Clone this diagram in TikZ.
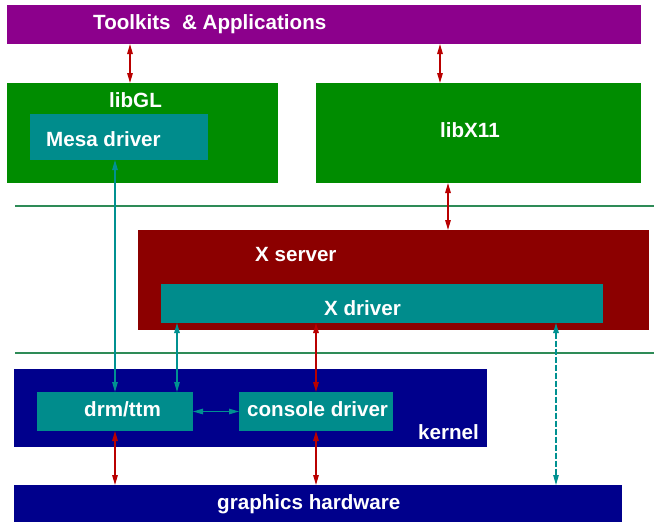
\documentclass[tikz,border=0pt]{standalone}
\usepackage{fontspec}
\setmainfont{Liberation Sans}
\usetikzlibrary{arrows.meta,calc}

\definecolor{appcol}{RGB}{140,0,140}
\definecolor{libcol}{RGB}{0,140,0}
\definecolor{drvcol}{RGB}{0,140,140}
\definecolor{srvcol}{RGB}{140,0,0}
\definecolor{kercol}{RGB}{0,0,140}
\definecolor{redarr}{RGB}{185,0,0}
\definecolor{tealarr}{RGB}{0,145,145}
\definecolor{sepcol}{RGB}{46,139,87}

\tikzset{
    layer/.style={anchor=north west, inner sep=0pt, outer sep=0pt},
    lbl/.style={anchor=base west, inner sep=0pt, text=white,
        font=\fontsize{20.6}{24}\selectfont\bfseries},
    redlink/.style={draw=redarr, line width=1.4pt,
        {Triangle[length=10pt,width=5.5pt]}-{Triangle[length=10pt,width=5.5pt]}},
    teallink/.style={draw=tealarr, line width=1.1pt,
        {Triangle[length=10pt,width=5.5pt]}-{Triangle[length=10pt,width=5.5pt]}},
    sepline/.style={draw=sepcol, line width=1.3pt}
}

\begin{document}
\begin{tikzpicture}[x=1pt, y=-1pt]
    \useasboundingbox (0,0) rectangle (654,522);

    % user space
    \node[layer, fill=appcol, minimum width=634pt, minimum height=39pt] (apps) at (7,5) {};
    \node[lbl] (apps_txt) at (93,29) {Toolkits~ \& Applications};

    \node[layer, fill=libcol, minimum width=271pt, minimum height=100pt] (libgl) at (7,83) {};
    \node[lbl] (libgl_txt) at (109,107) {libGL};
    \node[layer, fill=drvcol, minimum width=178pt, minimum height=46pt] (mesa) at (30,114) {};
    \node[lbl] (mesa_txt) at (46,146) {Mesa driver};

    \node[layer, fill=libcol, minimum width=325pt, minimum height=100pt] (libx) at (316,83) {};
    \node[lbl] (libx_txt) at (440,137) {libX11};

    % separators
    \coordinate (sep1_l) at (15,206);
    \coordinate (sep1_r) at (654,206);
    \coordinate (sep2_l) at (15,353);
    \coordinate (sep2_r) at (654,353);
    \draw[sepline] (sep1_l) -- (sep1_r);
    \draw[sepline] (sep2_l) -- (sep2_r);

    % X server
    \node[layer, fill=srvcol, minimum width=511pt, minimum height=100pt] (xsrv) at (138,230) {};
    \node[lbl] (xsrv_txt) at (255,261) {X server};
    \node[layer, fill=drvcol, minimum width=442pt, minimum height=39pt] (xdrv) at (161,284) {};
    \node[lbl] (xdrv_txt) at (324,315) {X driver};

    % kernel
    \node[layer, fill=kercol, minimum width=473pt, minimum height=78pt] (kern) at (14,369) {};
    \node[lbl] (kern_txt) at (418,439) {kernel};
    \node[layer, fill=drvcol, minimum width=156pt, minimum height=39pt] (drm) at (37,392) {};
    \node[lbl] (drm_txt) at (84,416) {drm/ttm};
    \node[layer, fill=drvcol, minimum width=154pt, minimum height=39pt] (cons) at (239,392) {};
    \node[lbl] (cons_txt) at (247,416) {console driver};

    % hardware
    \node[layer, fill=kercol, minimum width=608pt, minimum height=37pt] (hw) at (14,485) {};
    \node[lbl] (hw_txt) at (217,509) {graphics hardware};

    % links
    \draw[redlink] ([xshift=-12.5pt]libgl.north |- apps.south) -- ([xshift=-12.5pt]libgl.north);
    \draw[redlink] ([xshift=-38.5pt]libx.north |- apps.south) -- ([xshift=-38.5pt]libx.north);
    \draw[redlink] ([xshift=-30.5pt]libx.south) -- ([xshift=-30.5pt]libx.south |- xsrv.north);
    \draw[redlink] (cons.north |- xdrv.south) -- (cons.north);
    \draw[redlink] (drm.south) -- (drm.south |- hw.north);
    \draw[redlink] (cons.south) -- (cons.south |- hw.north);

    \draw[teallink] (drm.north |- mesa.south) -- (drm.north);
    \draw[teallink] ([xshift=-16pt]drm.north east |- xdrv.south) -- ([xshift=-16pt]drm.north east);
    \draw[teallink] (drm.east) -- (cons.west);
    \draw[teallink, dashed, dash pattern=on 6pt off 2pt] ([xshift=-47pt]xdrv.south east) -- ([xshift=-47pt]xdrv.south east |- hw.north);

\end{tikzpicture}
\end{document}
